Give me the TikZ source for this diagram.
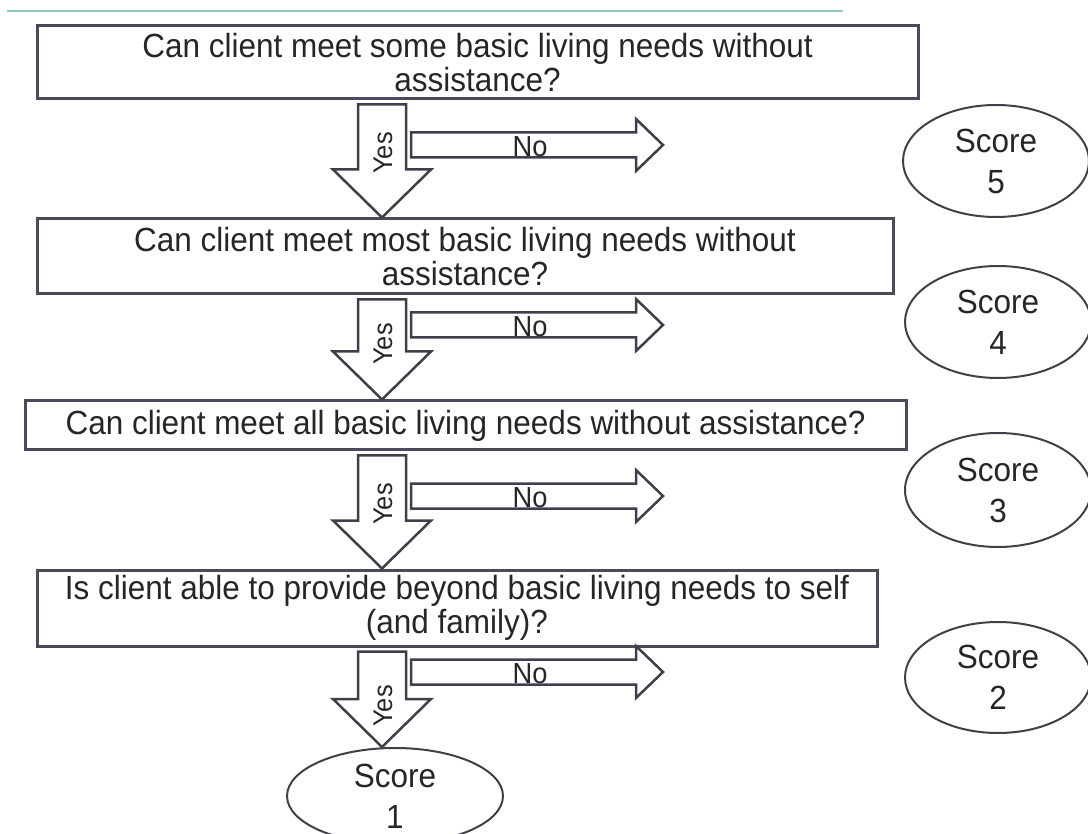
\documentclass[tikz,border=0pt]{standalone}
\usepackage{fontspec}
\setmainfont{Liberation Sans}[FakeStretch=0.94]
\usetikzlibrary{calc,shapes.geometric}

\definecolor{boxline}{HTML}{4A4A5C}
\definecolor{arrowline}{HTML}{3F3F4C}
\definecolor{ovalline}{HTML}{404048}
\definecolor{inktext}{HTML}{262626}
\definecolor{rulecolor}{HTML}{8FCAC2}

% hollow "Yes" arrow pointing down: #1 = point under the upper box, #2 = tip point
\newcommand\yesarrow[2]{%
  \draw[blockarrow] let \p1=(#1), \p2=(#2) in
    (\x1-24pt,\y1-4pt) -- (\x1+24pt,\y1-4pt) -- (\x1+24pt,\y2+48pt)
    -- (\x1+49pt,\y2+48pt) -- (\x2,\y2) -- (\x1-49pt,\y2+48pt)
    -- (\x1-24pt,\y2+48pt) -- cycle;}

% hollow "No" arrow pointing right: #1 = tail point, #2 = tip point
\newcommand\noarrow[2]{%
  \draw[blockarrow] let \p1=(#1), \p2=(#2) in
    (\x1,\y1+12.5pt) -- (\x2-27pt,\y1+12.5pt) -- (\x2-27pt,\y1+26pt)
    -- (\x2,\y1) -- (\x2-27pt,\y1-26pt) -- (\x2-27pt,\y1-12.5pt)
    -- (\x1,\y1-12.5pt) -- cycle;}

\begin{document}
\begin{tikzpicture}[x=1pt,y=-1pt,
  question/.style={draw=boxline, line width=3pt, fill=white, inner sep=0pt,
    align=center, text=inktext, font=\fontsize{33.5}{34.5}\selectfont},
  scoreoval/.style={ellipse, draw=ovalline, line width=2pt, fill=white, inner sep=0pt,
    align=center, text=inktext, font=\fontsize{33.5}{41}\selectfont},
  blockarrow/.style={draw=arrowline, line width=2.5pt, fill=white, line join=miter},
  yeslabel/.style={rotate=90, text=inktext, font=\fontsize{27}{29}\selectfont, inner sep=0pt},
  nolabel/.style={text=inktext, font=\fontsize{29}{31}\selectfont, inner sep=0pt}]

\useasboundingbox (0,0) rectangle (1088,834);

% top rule
\draw[rulecolor, line width=2pt] (7,11) -- (843,11);

% questions
\node[question, minimum width=881, minimum height=73] (q1) at (477.5,62.5)
  {Can client meet some basic living needs without\\assistance?};
\node[question, minimum width=856, minimum height=75] (q2) at (465,256.5)
  {Can client meet most basic living needs without\\assistance?};
\node[question, minimum width=881, minimum height=49] (q3) at (465.5,425.5)
  {Can client meet all basic living needs without assistance?};
\node[question, minimum width=840, minimum height=76] (q4) at (457,608)
  {Is client able to provide beyond basic living needs to self\\(and family)?};

% scores
\node[scoreoval, minimum width=186, minimum height=112] (s5) at (996,161) {Score\\5};
\node[scoreoval, minimum width=186, minimum height=112] (s4) at (998,322) {Score\\4};
\node[scoreoval, minimum width=186, minimum height=114] (s3) at (998,490) {Score\\3};
\node[scoreoval, minimum width=186, minimum height=111] (s2) at (998,677.5) {Score\\2};
\node[scoreoval, minimum width=216, minimum height=96] (s1) at (395,796) {Score\\1};

% axis of the "Yes" arrows
\coordinate (yx) at (382,0);

% "Yes" arrows
\yesarrow{q1.south -| yx}{q2.north -| yx}
\yesarrow{q2.south -| yx}{q3.north -| yx}
\yesarrow{q3.south -| yx}{q4.north -| yx}
\yesarrow{q4.south -| yx}{s1.north -| yx}

% "No" arrows
\coordinate (no1a) at (411,145);   \coordinate (no1b) at (663,145);
\coordinate (no2a) at (411,325);   \coordinate (no2b) at (663,325);
\coordinate (no3a) at (411,496);   \coordinate (no3b) at (663,496);
\coordinate (no4a) at (411,672);   \coordinate (no4b) at (663,672);
\noarrow{no1a}{no1b}
\noarrow{no2a}{no2b}
\noarrow{no3a}{no3b}
\noarrow{no4a}{no4b}

% labels
\node[yeslabel] (y1) at (383,153) {Yes};
\node[yeslabel] (y2) at (383,344) {Yes};
\node[yeslabel] (y3) at (383,504) {Yes};
\node[yeslabel] (y4) at (383,706) {Yes};
\node[nolabel] (n1) at (530,147) {No};
\node[nolabel] (n2) at (530,327) {No};
\node[nolabel] (n3) at (530,498) {No};
\node[nolabel] (n4) at (530,674) {No};

\end{tikzpicture}
\end{document}
